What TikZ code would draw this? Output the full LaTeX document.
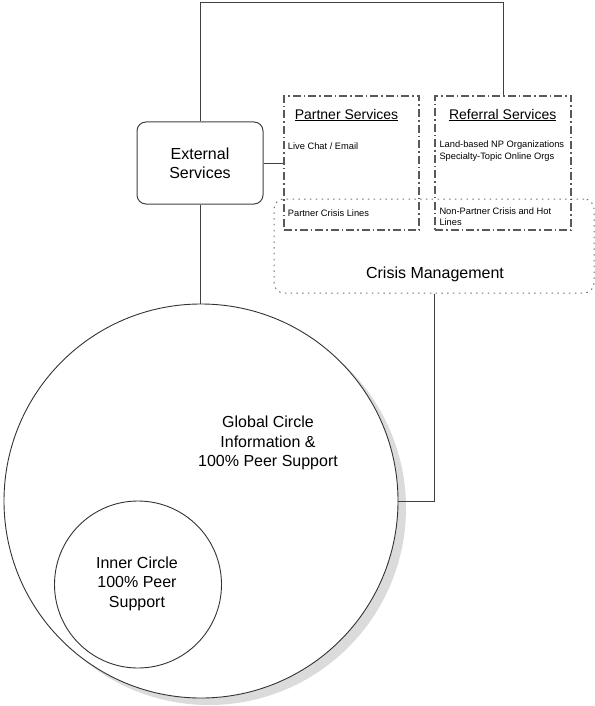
\documentclass[tikz,border=0pt]{standalone}
\usepackage{fontspec}
\setmainfont{Liberation Sans}
\begin{document}
\begin{tikzpicture}[x=1bp,y=-1bp,
  line/.style={draw=black!75,line width=0.9bp},
  dashdotbox/.style={draw=black!65,line width=1.4bp,dash pattern=on 8bp off 3bp on 1.5bp off 3bp,minimum width=#1,minimum height=134bp,inner sep=0pt},
  crisisbox/.style={draw=black!55,line width=1bp,dash pattern=on 1.5bp off 4.3bp,rounded corners=10bp,minimum width=320bp,minimum height=94bp,inner sep=0pt},
  extbox/.style={draw=black!75,line width=1bp,rounded corners=9bp,minimum width=126bp,minimum height=82bp,align=center,font=\fontsize{16bp}{19bp}\selectfont},
  bigtext/.style={align=center,font=\fontsize{16bp}{19.5bp}\selectfont},
  title/.style={font=\fontsize{14bp}{16bp}\selectfont},
  small/.style={font=\fontsize{9.3bp}{11.3bp}\selectfont,align=left,inner sep=0pt},
  circ/.style={circle,draw=black!80,line width=0.9bp,fill=white,inner sep=0pt,minimum size=#1}
]
\useasboundingbox (0,0) rectangle (595,706);
% circles
\fill[black!14] (209,508) circle (197bp);
\node[circ=394bp] (global) at (201,501) {};
\node[circ=167bp] (inner) at (138,584.5) {};
\node[bigtext] (globaltxt) at (268,443) {Global Circle\\Information \&\\100\% Peer Support};
\node[bigtext] (innertxt) at (137,583.5) {Inner Circle\\100\% Peer\\Support};
% boxes
\node[crisisbox] (crisis) at (434,246) {};
\node[dashdotbox=135bp] (partner) at (351.5,163) {};
\node[dashdotbox=136bp] (referral) at (503,163) {};
\node[extbox] (ext) at (200,163) {External\\Services};
\node[bigtext] (crisistxt) at (435,274) {Crisis Management};
% titles and texts
\node[title] (ptitle) at (346.5,115) {\underline{Partner Services}};
\node[title] (rtitle) at (502.7,115) {\underline{Referral Services}};
\node[small,anchor=west] (live) at (287.7,146) {Live Chat / Email};
\node[small,anchor=north west] (land) at (439.3,141) {Land-based NP Organizations\\Specialty-Topic Online Orgs};
\node[small,anchor=west] (pcl) at (287.7,212.7) {Partner Crisis Lines};
\node[small,anchor=north west] (npc) at (439.3,207.7) {Non-Partner Crisis and Hot\\Lines};
% connectors
\coordinate (topL) at (200,2);
\draw[line] (ext.north) -- (topL) -| (referral.north);
\draw[line] (ext.east) -- (partner.west);
\draw[line] (ext.south) -- (ext.south |- global.north);
\draw[line] (crisis.south) |- (global.east);
\end{tikzpicture}
\end{document}
